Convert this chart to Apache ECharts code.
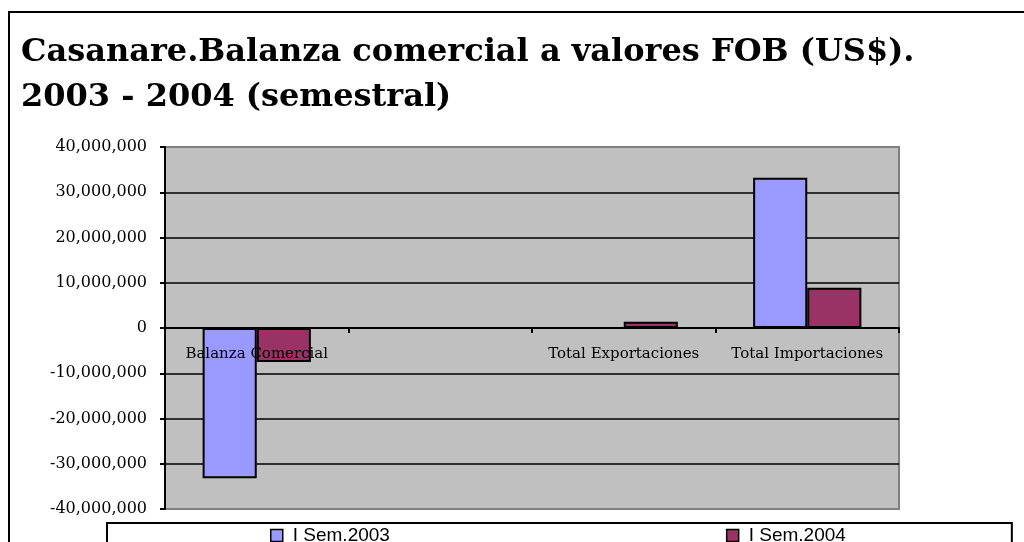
<!DOCTYPE html>
<html>
<head>
<meta charset="utf-8">
<script src="https://cdn.jsdelivr.net/npm/echarts@6.0.0/dist/echarts.min.js"></script>
<style>
  html, body { margin: 0; padding: 0; background: #fff; }
  #chart { width: 1024px; height: 542px; }
</style>
</head>
<body>
<div id="chart"></div>
<script>
// categories (second slot is empty in the source chart)
const categories = ['Balanza Comercial', '', 'Total Exportaciones', 'Total Importaciones']
const sem2003 = [-33200000, null, 0, 33200000]
const sem2004 = [-7500000, null, 1400000, 8900000]
const seriesNames = ['I Sem.2003', 'I Sem.2004']
const yTicks = { min: -40000000, max: 40000000, step: 10000000 }

const chart = echarts.init(document.getElementById('chart'))

chart.setOption({
    animation: false,
    title: {
        text: 'Casanare.Balanza comercial a valores FOB (US$).\n2003 - 2004 (semestral)',
        left: 16,
        top: 25,
        textStyle: {
            fontFamily: 'DejaVu Serif',
            fontWeight: 'bold',
            fontSize: 32,
            lineHeight: 45,
            color: '#000'
        }
    },
    graphic: [{
        type: 'rect',
        shape: { x: 9, y: 12, width: 1030, height: 540 },
        style: { fill: 'none', stroke: '#000', lineWidth: 2 },
        silent: true,
        z: -1
    }],
    legend: {
        data: seriesNames,
        left: 107,
        top: 523,
        padding: [3, 166, 12, 163],
        itemGap: 336,
        itemWidth: 12,
        itemHeight: 12,
        icon: 'rect',
        borderColor: '#000',
        borderWidth: 2,
        itemStyle: { borderColor: '#000', borderWidth: 1.5 },
        textStyle: {
            fontFamily: 'Liberation Sans',
            fontSize: 19,
            color: '#000',
            padding: [0, 0, 0, 5]
        }
    },
    grid: {
        left: 165,
        right: 125,
        top: 147,
        bottom: 33,
        show: true,
        backgroundColor: '#C0C0C0',
        borderColor: '#808080',
        borderWidth: 2
    },
    xAxis: {
        type: 'category',
        data: categories,
        z: 5,
        // axis sits on the zero line, labels just under it
        offset: -181,
        axisLine: { onZero: false, lineStyle: { color: '#000', width: 2 } },
        axisTick: { show: true, interval: 0, inside: false, length: 5, lineStyle: { color: '#000', width: 2 } },
        axisLabel: {
            interval: 0,
            hideOverlap: false,
            margin: 19,
            fontFamily: 'DejaVu Serif',
            fontSize: 15,
            color: '#000'
        }
    },
    yAxis: {
        type: 'value',
        min: yTicks.min,
        max: yTicks.max,
        interval: yTicks.step,
        axisLine: { show: true, lineStyle: { color: '#000', width: 2 } },
        axisTick: { show: true, length: 5, lineStyle: { color: '#000', width: 2 } },
        splitLine: { show: true, showMinLine: false, showMaxLine: false, lineStyle: { color: '#000', width: 1.5 } },
        axisLabel: {
            margin: 18,
            fontFamily: 'DejaVu Serif',
            fontSize: 16,
            color: '#000',
            formatter: v => v.toLocaleString('en-US')
        }
    },
    series: [
        {
            name: seriesNames[0],
            type: 'bar',
            data: sem2003,
            barGap: 0,
            barCategoryGap: '41%',
            itemStyle: { color: '#9999FF', borderColor: '#000', borderWidth: 2 }
        },
        {
            name: seriesNames[1],
            type: 'bar',
            data: sem2004,
            itemStyle: { color: '#993366', borderColor: '#000', borderWidth: 2 }
        }
    ]
})
</script>
</body>
</html>
